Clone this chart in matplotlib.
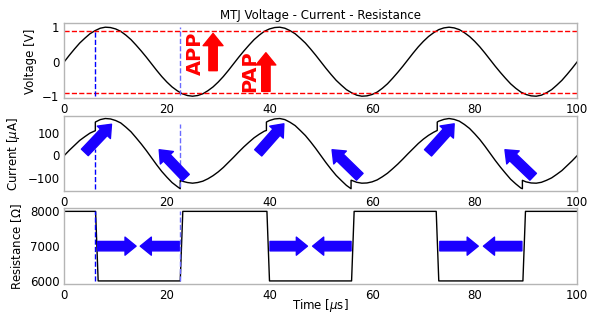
import numpy as np
import matplotlib
matplotlib.use("Agg")
import matplotlib.pyplot as plt

# time axis [us] and voltage samples
t_us = np.arange(0, 101)
voltage = [0.00, 0.19, 0.37, 0.54, 0.68, 0.81, 0.90, 0.97, 1.00, 0.99,
           0.95, 0.88, 0.77, 0.64, 0.48, 0.31, 0.13, -0.06, -0.25, -0.43,
           -0.59, -0.73, -0.84, -0.93, -0.98, -1.00, -0.98, -0.93, -0.84, -0.73,
           -0.59, -0.43, -0.25, -0.06, 0.13, 0.31, 0.48, 0.64, 0.77, 0.88,
           0.95, 0.99, 1.00, 0.97, 0.90, 0.81, 0.68, 0.54, 0.37, 0.19,
           0.00, -0.19, -0.37, -0.54, -0.68, -0.81, -0.90, -0.97, -1.00, -0.99,
           -0.95, -0.88, -0.77, -0.64, -0.48, -0.31, -0.13, 0.06, 0.25, 0.43,
           0.59, 0.73, 0.84, 0.93, 0.98, 1.00, 0.98, 0.93, 0.84, 0.73,
           0.59, 0.43, 0.25, 0.06, -0.13, -0.31, -0.48, -0.64, -0.77, -0.88,
           -0.95, -0.99, -1.00, -0.97, -0.90, -0.81, -0.68, -0.54, -0.37, -0.19,
           0.00]

# current [uA], with the jumps at the switching instants
cur_t = [0, 1, 2, 3, 4, 5, 6.05, 6.05, 7, 8, 9, 10, 11, 12, 13, 14, 15, 16, 17, 18,
         19, 20, 21, 22, 22.6, 22.6, 23, 24, 25, 26, 27, 28, 29, 30, 31, 32, 33, 34,
         35, 36, 37, 38, 39, 39.4, 39.4, 40, 41, 42, 43, 44, 45, 46, 47, 48, 49, 50,
         51, 52, 53, 54, 55, 55.9, 55.9, 56, 57, 58, 59, 60, 61, 62, 63, 64, 65, 66,
         67, 68, 69, 70, 71, 72, 72.7, 72.7, 73, 74, 75, 76, 77, 78, 79, 80, 81, 82,
         83, 84, 85, 86, 87, 88, 89, 89.3, 89.3, 90, 91, 92, 93, 94, 95, 96, 97, 98,
         99, 100]
cur_ua = [0, 24, 46, 68, 85, 101, 112, 151, 162, 167, 165, 158, 147, 128, 107, 80, 52, 22, -10, -42,
          -72, -98, -122, -140, -150, -112, -116, -122, -125, -122, -116, -105, -91, -74, -54, -31, -8, 16,
          39, 60, 80, 96, 110, 113, 151, 158, 165, 167, 162, 150, 135, 113, 90, 62, 32, 0,
          -32, -62, -90, -113, -135, -150, -112, -112, -121, -125, -124, -119, -110, -96, -80, -60, -39, -16,
          8, 31, 54, 74, 91, 105, 113, 151, 155, 163, 167, 163, 155, 140, 122, 98, 72, 42,
          10, -22, -52, -80, -107, -128, -147, -150, -112, -119, -124, -125, -121, -112, -101, -85, -68, -46,
          -24, 0]

# resistance [Ohm], piecewise
res_t = [0, 6.1, 6.6, 22.6, 23.1, 39.5, 40.0, 56.0, 56.5, 72.5, 73.0, 89.4, 89.9, 100]
res_ohm = [8000, 8000, 6000, 6000, 8000, 8000, 6000, 6000, 8000, 8000, 6000, 6000, 8000, 8000]

v_thresh = 0.9
t_switch_p = 5.94   # first P switch
t_switch_ap = 22.6  # first AP switch

# annotation arrows (tail, head) in data units
cur_arrows = [((4.0, 14), (9.2, 141)), ((37.8, 12), (42.8, 143)), ((70.9, 12), (76.0, 143)),
              ((23.7, -100), (18.5, 26)), ((57.6, -96), (52.2, 26)), ((91.4, -96), (85.9, 26))]
res_arrows = [((6.5, 7000), (14.0, 7000)), ((40.1, 7000), (47.4, 7000)), ((73.2, 7000), (80.7, 7000)),
              ((22.4, 7000), (14.8, 7000)), ((55.9, 7000), (48.4, 7000)), ((89.2, 7000), (81.7, 7000))]
state_labels = [("APP", 25.5, 0.25), ("PAP", 36.1, -0.27)]
state_arrows = [((29.0, -0.26), (29.0, 0.82)), ((39.3, -0.86), (39.3, 0.26))]

fs = 8.5
fig = plt.figure(figsize=(5.91, 3.12), dpi=100)
ax1 = fig.add_axes([0.1088, 0.685, 0.868, 0.240])
ax2 = fig.add_axes([0.1088, 0.388, 0.868, 0.240])
ax3 = fig.add_axes([0.1088, 0.089, 0.868, 0.243])

for ax in (ax1, ax2, ax3):
    for s in ax.spines.values():
        s.set_color("#b5b5b5")
        s.set_linewidth(1.0)
    ax.tick_params(length=0, pad=3.5, labelsize=fs)
    ax.set_xlim(0, 100)
    ax.set_xticks([0, 20, 40, 60, 80, 100])

blue_arrow = dict(arrowstyle="simple,head_length=0.8,head_width=1.3,tail_width=0.68",
                  color="#1a00ff", shrinkA=0, shrinkB=0, mutation_scale=10)
red_arrow = dict(arrowstyle="simple,head_length=0.8,head_width=1.3,tail_width=0.55",
                 color="red", shrinkA=0, shrinkB=0, mutation_scale=11)

# voltage
ax1.plot(t_us, voltage, color="black", lw=1)
ax1.axhline(v_thresh, color="red", ls="--", lw=1)
ax1.axhline(-v_thresh, color="red", ls="--", lw=1)
ax1.vlines(t_switch_p, -1.0, 0.9, colors="blue", linestyles="--", lw=1)
ax1.vlines(t_switch_ap, -0.97, 1.0, colors="#6b6bff", linestyles="--", lw=1)
for txt, x, y in state_labels:
    ax1.text(x, y, txt, color="red", fontsize=14, fontweight="bold",
             rotation=90, ha="center", va="center")
for tail, head in state_arrows:
    ax1.annotate("", xy=head, xytext=tail, arrowprops=red_arrow)
ax1.set_ylim(-1.06, 1.11)
ax1.set_yticks([-1, 0, 1])
ax1.set_ylabel("Voltage [V]", fontsize=fs)
ax1.set_title("MTJ Voltage - Current - Resistance", fontsize=fs, pad=3)

# current
ax2.plot(cur_t, cur_ua, color="black", lw=1)
ax2.vlines(t_switch_p, -150, 30, colors="blue", linestyles="--", lw=1)
ax2.vlines(t_switch_ap, -142, 142, colors="#6b6bff", linestyles="--", lw=1)
for tail, head in cur_arrows:
    ax2.annotate("", xy=head, xytext=tail, arrowprops=blue_arrow)
ax2.set_ylim(-160, 178)
ax2.set_yticks([-100, 0, 100])
ax2.set_ylabel(r"Current [$\mu$A]", fontsize=fs)

# resistance
ax3.plot(res_t, res_ohm, color="black", lw=1)
ax3.vlines(t_switch_p, 6000, 8000, colors="blue", linestyles="--", lw=1)
ax3.vlines(t_switch_ap, 6000, 8000, colors="#6b6bff", linestyles="--", lw=1)
for tail, head in res_arrows:
    ax3.annotate("", xy=head, xytext=tail, arrowprops=blue_arrow)
ax3.set_ylim(5905, 8085)
ax3.set_yticks([6000, 7000, 8000])
ax3.set_ylabel(r"Resistance [$\Omega$]", fontsize=fs)
ax3.set_xlabel(r"Time [$\mu$s]", fontsize=fs, labelpad=-4)

fig.savefig("out.png", dpi=100)
